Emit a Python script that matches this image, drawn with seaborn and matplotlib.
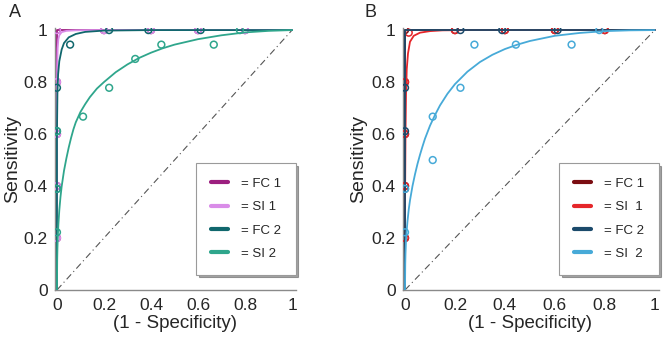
import matplotlib.pyplot as plt
import seaborn as sns
from matplotlib.lines import Line2D

# ---- data ----
TICKS = [0, 0.2, 0.4, 0.6, 0.8, 1]
TICK_LABELS = ["0", "0.2", "0.4", "0.6", "0.8", "1"]
CHANCE_X = [0, 1]
CHANCE_Y = [0, 1]

# Panel A: observed ROC points
A_FC1_X = [0, 0, 0, 0, 0, 0.2, 0.4, 0.6, 0.8]
A_FC1_Y = [0.2, 0.4, 0.6, 0.8, 1, 1, 1, 1, 1]
A_SI1_X = [0, 0, 0, 0, 0, 0.2, 0.4, 0.6, 0.8]
A_SI1_Y = [0.2, 0.4, 0.6, 0.8, 1, 1, 1, 1, 1]
A_FC2_X = [0, 0, 0, 0.056, 0.222, 0.389, 0.611]
A_FC2_Y = [0.389, 0.611, 0.778, 0.944, 1, 1, 1]
A_SI2_X = [0, 0, 0, 0.111, 0.222, 0.333, 0.444, 0.667, 0.778]
A_SI2_Y = [0.222, 0.389, 0.611, 0.667, 0.778, 0.889, 0.944, 0.944, 1]

# Panel A: fitted curves
A_FC1_CX = [0, 0, 0.2, 1]
A_FC1_CY = [0, 1, 1, 1]
A_SI1_CX = [0, 0, 0.001, 0.003, 0.006, 0.01, 0.02, 0.04, 0.08, 0.15, 0.3, 1]
A_SI1_CY = [0, 0.5, 0.85, 0.93, 0.965, 0.98, 0.992, 0.997, 0.999, 1, 1, 1]
A_FC2_CX = [0, 0, 0.002, 0.005, 0.01, 0.02, 0.03, 0.05, 0.08, 0.12, 0.2, 0.4, 1]
A_FC2_CY = [0, 0.6, 0.76, 0.83, 0.88, 0.925, 0.95, 0.972, 0.985, 0.993, 0.998, 1, 1]
A_SI2_CX = [0, 0.001, 0.002, 0.004, 0.006, 0.01, 0.015, 0.02, 0.03, 0.04, 0.05,
            0.06, 0.07, 0.08, 0.1, 0.12, 0.14, 0.17, 0.2, 0.25, 0.3, 0.35, 0.4,
            0.45, 0.5, 0.6, 0.7, 0.8, 0.9, 1]
A_SI2_CY = [0, 0.117, 0.159, 0.213, 0.251, 0.307, 0.358, 0.398, 0.459, 0.506, 0.548,
            0.585, 0.618, 0.645, 0.685, 0.715, 0.742, 0.775, 0.8, 0.838, 0.868, 0.893,
            0.913, 0.93, 0.944, 0.965, 0.98, 0.991, 0.997, 1]

# Panel B: observed ROC points
B_FC1_X = [0, 0, 0, 0, 0, 0.2, 0.4, 0.6, 0.8]
B_FC1_Y = [0.2, 0.4, 0.6, 0.8, 1, 1, 1, 1, 1]
B_SI1_X = [0, 0, 0, 0, 0.015, 0.2, 0.4, 0.6, 0.8]
B_SI1_Y = [0.2, 0.4, 0.6, 0.8, 0.99, 1, 1, 1, 1]
B_FC2_X = [0, 0, 0, 0.222, 0.389, 0.611]
B_FC2_Y = [0.389, 0.611, 0.778, 1, 1, 1]
B_SI2_X = [0, 0, 0.111, 0.111, 0.222, 0.278, 0.444, 0.667, 0.778]
B_SI2_Y = [0.222, 0.389, 0.5, 0.667, 0.778, 0.944, 0.944, 0.944, 1]

# Panel B: fitted curves
B_FC1_CX = [0, 0, 1]
B_FC1_CY = [0, 1, 1]
B_SI1_CX = [0, 0, 0.002, 0.004, 0.007, 0.012, 0.02, 0.035, 0.06, 0.1, 0.15, 0.25, 1]
B_SI1_CY = [0, 0.3, 0.6, 0.75, 0.85, 0.91, 0.955, 0.978, 0.99, 0.996, 0.999, 1, 1]
B_FC2_CX = [0, 0, 1]
B_FC2_CY = [0, 1, 1]
B_SI2_CX = [0, 0.001, 0.002, 0.004, 0.006, 0.01, 0.015, 0.02, 0.03, 0.04, 0.05,
            0.06, 0.07, 0.08, 0.1, 0.12, 0.14, 0.17, 0.2, 0.25, 0.3, 0.35, 0.4,
            0.45, 0.5, 0.6, 0.7, 0.8, 0.9, 1]
B_SI2_CY = [0, 0.1, 0.14, 0.19, 0.22, 0.265, 0.31, 0.345, 0.4, 0.445, 0.485,
            0.52, 0.552, 0.582, 0.632, 0.673, 0.71, 0.755, 0.792, 0.84, 0.877, 0.905,
            0.927, 0.944, 0.958, 0.978, 0.989, 0.996, 0.999, 1]

A_LABELS = ["= FC 1", "= SI 1", "= FC 2", "= SI 2"]
B_LABELS = ["= FC 1", "= SI  1", "= FC 2", "= SI  2"]
A_COLORS = ["#9c1f7f", "#d98ce8", "#10676d", "#2fa68c"]
B_COLORS = ["#7b0d12", "#e5262a", "#1b4a6b", "#47aad8"]


def draw_panel(ax, series, colors, labels):
    # chance line
    sns.lineplot(x=CHANCE_X, y=CHANCE_Y, ax=ax, color="#555555", lw=0.8,
                 linestyle=(0, (6, 3, 1, 3)), estimator=None, sort=False, zorder=1)

    z = 2
    for (px, py, cx, cy), c in zip(series, colors):
        sns.scatterplot(x=px, y=py, ax=ax, s=24, marker="o", color=c,
                        facecolors="none", edgecolors=c, linewidth=1.1, zorder=z)
        sns.lineplot(x=cx, y=cy, ax=ax, color=c, lw=1.3,
                     estimator=None, sort=False, zorder=z + 1)
        z += 2

    ax.set_xlim(-0.01, 1.015)
    ax.set_ylim(0, 1.008)
    ax.set_xticks(TICKS)
    ax.set_xticklabels(TICK_LABELS)
    ax.set_yticks(TICKS)
    ax.set_yticklabels(TICK_LABELS)
    ax.tick_params(direction="in", length=3, width=0.6, color="#888888",
                   labelsize=12.5)
    ax.tick_params(axis="x", pad=6)
    ax.tick_params(axis="y", pad=5)
    for side in ["top", "right"]:
        ax.spines[side].set_visible(False)
    for side in ["left", "bottom"]:
        ax.spines[side].set_color("#8a8a8a")
        ax.spines[side].set_linewidth(1.0)

    ax.set_xlabel("(1 - Specificity)", fontsize=13.5)
    ax.set_ylabel("Sensitivity", fontsize=14)
    ax.xaxis.set_label_coords(0.5, -0.095)
    ax.yaxis.set_label_coords(-0.14, 0.5)

    handles = [Line2D([0], [0], color=c, lw=3) for c in colors]
    leg = ax.legend(handles, labels, loc="upper right", bbox_to_anchor=(1.0, 0.485),
                    borderaxespad=0, frameon=True, fancybox=False, shadow=True,
                    fontsize=9.5, handlelength=1.3, handletextpad=1.0,
                    labelspacing=0.85, borderpad=1.1)
    leg.get_frame().set_edgecolor("#9a9a9a")
    leg.get_frame().set_linewidth(0.8)


def main() -> None:
    sns.set_style("white")
    plt.rcParams["font.family"] = ["Liberation Sans", "DejaVu Sans"]

    fig = plt.figure(figsize=(6.64, 3.41), dpi=100)
    ax_a = fig.add_axes([54.6 / 664, 51 / 341, 241 / 664, 262 / 341])
    ax_b = fig.add_axes([402.5 / 664, 51 / 341, 256 / 664, 262 / 341])

    series_a = [
        (A_FC1_X, A_FC1_Y, A_FC1_CX, A_FC1_CY),
        (A_SI1_X, A_SI1_Y, A_SI1_CX, A_SI1_CY),
        (A_FC2_X, A_FC2_Y, A_FC2_CX, A_FC2_CY),
        (A_SI2_X, A_SI2_Y, A_SI2_CX, A_SI2_CY),
    ]
    series_b = [
        (B_FC1_X, B_FC1_Y, B_FC1_CX, B_FC1_CY),
        (B_SI1_X, B_SI1_Y, B_SI1_CX, B_SI1_CY),
        (B_FC2_X, B_FC2_Y, B_FC2_CX, B_FC2_CY),
        (B_SI2_X, B_SI2_Y, B_SI2_CX, B_SI2_CY),
    ]

    draw_panel(ax_a, series_a, A_COLORS, A_LABELS)
    draw_panel(ax_b, series_b, B_COLORS, B_LABELS)

    # panel letters
    fig.text(9 / 664, 1 - 4 / 341, "A", fontsize=13, ha="left", va="top")
    fig.text(364 / 664, 1 - 4 / 341, "B", fontsize=13, ha="left", va="top")

    fig.savefig("out.png", dpi=100)


if __name__ == "__main__":
    main()
